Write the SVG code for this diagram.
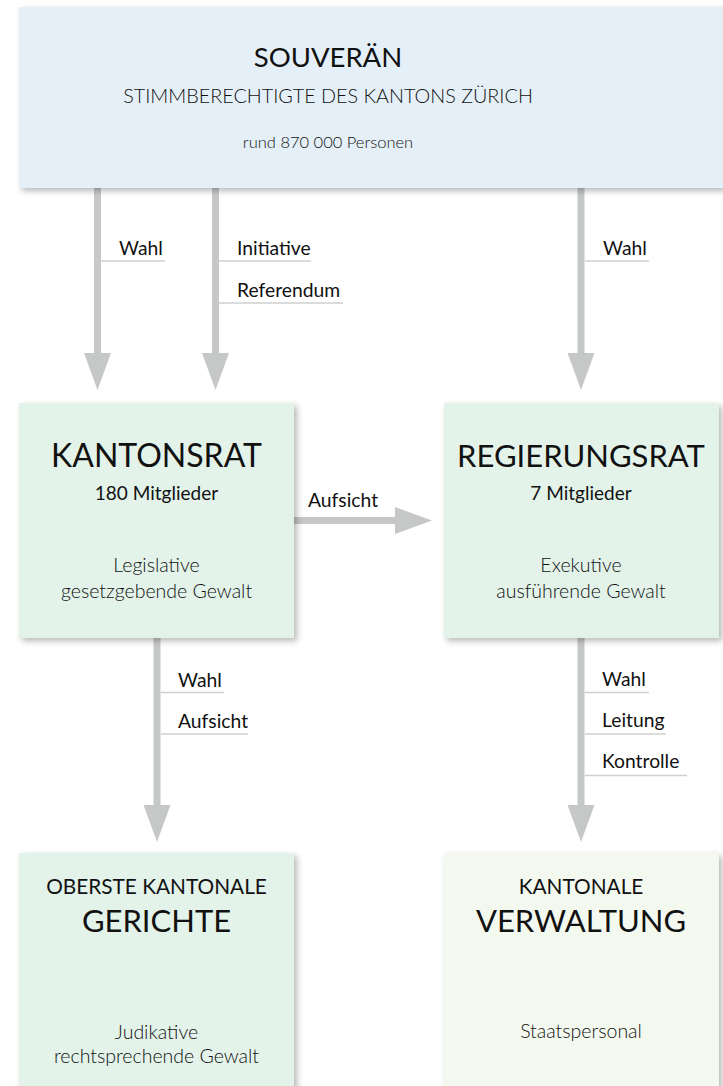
<svg xmlns="http://www.w3.org/2000/svg" width="723" height="1086" viewBox="0 0 723 1086">
<defs>
<filter id="sh" x="-10%" y="-10%" width="130%" height="130%">
<feDropShadow dx="3" dy="3" stdDeviation="3" flood-color="#000" flood-opacity="0.28"/>
</filter>
<marker id="ah" viewBox="0 0 37 27" refX="0" refY="13.5" markerWidth="37" markerHeight="27" markerUnits="userSpaceOnUse" orient="auto">
<path d="M0,0 L37,13.5 L0,27 Z" fill="#c6c8c7"/>
</marker>
<style>
text{font-family:Lato,"Open Sans","Liberation Sans",sans-serif;fill:#111;text-anchor:middle}
.t{font-size:32px;font-weight:400}
.s{font-size:19px;font-weight:400}
.l{font-size:19.5px;font-weight:300}
.lab{font-size:19.3px;font-weight:400;text-anchor:start}
.sh{stroke:#c6c8c7;stroke-width:7;fill:none;marker-end:url(#ah)}
.ul{stroke:#cfcfcf;stroke-width:1.3}
</style>
</defs>
<rect width="723" height="1086" fill="#fff"/>
<g id="connectors">
<line class="sh" x1="97.5" y1="188" x2="97.5" y2="353"/>
<line class="sh" x1="215.5" y1="188" x2="215.5" y2="353"/>
<line class="sh" x1="581" y1="188" x2="581" y2="353"/>
<line class="sh" x1="294" y1="520.5" x2="395" y2="520.5"/>
<line class="sh" x1="157" y1="638" x2="157" y2="805"/>
<line class="sh" x1="581" y1="638" x2="581" y2="805"/>
<line class="ul" x1="101" y1="261" x2="165" y2="261"/>
<line class="ul" x1="219" y1="261" x2="311" y2="261"/>
<line class="ul" x1="219" y1="303" x2="343" y2="303"/>
<line class="ul" x1="585" y1="261" x2="649" y2="261"/>
<line class="ul" x1="161" y1="692.5" x2="224" y2="692.5"/>
<line class="ul" x1="161" y1="734" x2="248" y2="734"/>
<line class="ul" x1="585" y1="692.5" x2="649" y2="692.5"/>
<line class="ul" x1="585" y1="734" x2="666" y2="734"/>
<line class="ul" x1="585" y1="775.5" x2="687" y2="775.5"/>
<text class="lab" x="119" y="255">Wahl</text>
<text class="lab" x="237" y="255">Initiative</text>
<text class="lab" x="237" y="297">Referendum</text>
<text class="lab" x="603" y="255">Wahl</text>
<text class="lab" x="308" y="507">Aufsicht</text>
<text class="lab" x="178" y="687">Wahl</text>
<text class="lab" x="178" y="728">Aufsicht</text>
<text class="lab" x="602" y="686">Wahl</text>
<text class="lab" x="602" y="727">Leitung</text>
<text class="lab" x="602" y="768">Kontrolle</text>
</g>
<g id="souveraen">
<rect x="19" y="7" width="712" height="181" fill="#e4eff7" filter="url(#sh)"/>
<text x="328" y="67" style="font-size:27.5px">SOUVERÄN</text>
<text x="328" y="103" style="font-size:19.8px;font-weight:300">STIMMBERECHTIGTE DES KANTONS ZÜRICH</text>
<text x="328" y="148" style="font-size:16.5px;font-weight:300">rund 870 000 Personen</text>
</g>
<g id="kantonsrat">
<rect x="19" y="403" width="275" height="235" fill="#e3f3ea" filter="url(#sh)"/>
<text class="t" x="156.5" y="467">KANTONSRAT</text>
<text class="s" x="156.5" y="500">180 Mitglieder</text>
<text class="l" x="156.5" y="572">Legislative</text>
<text class="l" x="156.5" y="598">gesetzgebende Gewalt</text>
</g>
<g id="regierungsrat">
<rect x="444" y="403" width="275" height="235" fill="#e3f3ea" filter="url(#sh)"/>
<text class="t" x="581" y="467" style="font-size:31px">REGIERUNGSRAT</text>
<text class="s" x="581" y="500">7 Mitglieder</text>
<text class="l" x="581" y="572">Exekutive</text>
<text class="l" x="581" y="598">ausführende Gewalt</text>
</g>
<g id="gerichte">
<rect x="19" y="853" width="275" height="245" fill="#e3f3ea" filter="url(#sh)"/>
<text x="156.5" y="894" style="font-size:20.8px;font-weight:400">OBERSTE KANTONALE</text>
<text x="156.5" y="932" style="font-size:31px">GERICHTE</text>
<text class="l" x="156.5" y="1039">Judikative</text>
<text class="l" x="156.5" y="1063">rechtsprechende Gewalt</text>
</g>
<g id="verwaltung">
<rect x="444" y="853" width="275" height="245" fill="#f4f9f0" filter="url(#sh)"/>
<text x="581" y="894" style="font-size:20.8px;font-weight:400">KANTONALE</text>
<text x="581" y="932" style="font-size:31px">VERWALTUNG</text>
<text class="l" x="581" y="1038">Staatspersonal</text>
</g>
</svg>
